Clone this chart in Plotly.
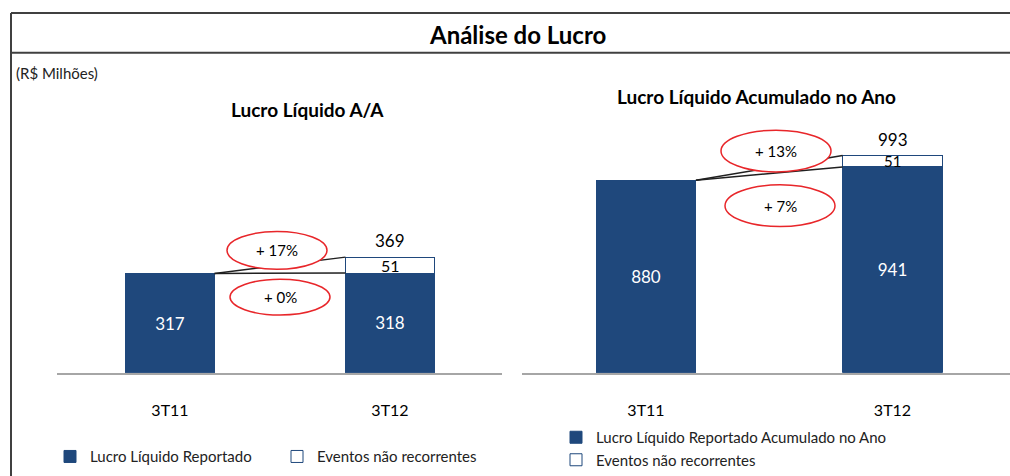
import plotly.graph_objects as go

W, H = 1010, 476

# dados (R$ milhões)
periodos = ['3T11', '3T12']
lucro_aa = [317, 318]
eventos_aa = [51]
total_aa = [369]
lucro_ano = [880, 941]
eventos_ano = [51]
total_ano = [993]
var_aa = ['+ 17%', '+ 0%']
var_ano = ['+ 13%', '+ 7%']

AZUL = '#1F487C'
FONTE = 'Lato'
BW = 0.405


def px(x):
    return x / W


def py(y):
    return 1 - y / H


fig = go.Figure()

# painel esquerdo
fig.add_trace(go.Bar(x=periodos, y=lucro_aa, name='Lucro Líquido Reportado',
                     marker=dict(color=AZUL, line=dict(color=AZUL, width=1)), width=BW,
                     text=[str(v) for v in lucro_aa], textposition='inside', insidetextanchor='middle',
                     textfont=dict(color='white', size=17), constraintext='none', textangle=0,
                     xaxis='x', yaxis='y', legend='legend'))
fig.add_trace(go.Bar(x=periodos[1:], y=eventos_aa, name='Eventos não recorrentes',
                     marker=dict(color='white', line=dict(color=AZUL, width=1)), width=BW,
                     xaxis='x', yaxis='y', legend='legend'))

# painel direito
fig.add_trace(go.Bar(x=periodos, y=lucro_ano, name='Lucro Líquido Reportado Acumulado no Ano',
                     marker=dict(color=AZUL, line=dict(color=AZUL, width=1)), width=BW,
                     text=[str(v) for v in lucro_ano], textposition='inside', insidetextanchor='middle',
                     textfont=dict(color='white', size=17), constraintext='none', textangle=0,
                     xaxis='x2', yaxis='y2', legend='legend2'))
fig.add_trace(go.Bar(x=periodos[1:], y=eventos_ano, name='Eventos não recorrentes',
                     marker=dict(color='white', line=dict(color=AZUL, width=1)), width=BW,
                     xaxis='x2', yaxis='y2', legend='legend2'))

shapes = []
annotations = []

# rótulos dos eventos e totais acima das barras
for xr, yr, base, ev, tot, fs in [('x', 'y', lucro_aa[1], eventos_aa, total_aa, 16),
                                  ('x2', 'y2', lucro_ano[1], eventos_ano, total_ano, 15)]:
    annotations.append(dict(xref=xr, yref=yr, x=periodos[1], y=base + ev[0] / 2, text=str(ev[0]),
                            showarrow=False, xanchor='center', yanchor='middle',
                            font=dict(size=fs, color='black', family=FONTE)))
    annotations.append(dict(xref=xr, yref=yr, x=periodos[1], y=tot[0], text=str(tot[0]),
                            showarrow=False, xanchor='center', yanchor='bottom', yshift=4,
                            font=dict(size=17, color='black', family=FONTE)))

# moldura
borda = dict(color='#404040', width=2)
shapes.append(dict(type='line', xref='paper', yref='paper', x0=px(11), x1=1.01, y0=py(13), y1=py(13), line=borda))
shapes.append(dict(type='line', xref='paper', yref='paper', x0=px(11), x1=1.01, y0=py(53), y1=py(53), line=borda))
shapes.append(dict(type='line', xref='paper', yref='paper', x0=px(11), x1=px(11), y0=py(13), y1=-0.01, line=borda))

# linhas de ligação
for xr, yr, base, topos in [('x', 'y', lucro_aa[0], [total_aa[0], lucro_aa[1]]),
                            ('x2', 'y2', lucro_ano[0], [total_ano[0], lucro_ano[1]])]:
    for t in topos:
        shapes.append(dict(type='line', xref=xr, yref=yr, x0=BW / 2, x1=1 - BW / 2, y0=base, y1=t,
                           line=dict(color='#202020', width=1.5)))

# elipses
elipses = [(277, 252, 100, 38, var_aa[0]), (280, 299, 100, 36, var_aa[1]),
           (776, 152, 110, 42, var_ano[0]), (780, 207, 110, 42, var_ano[1])]
for cx, cy, ew, eh, txt in elipses:
    shapes.append(dict(type='circle', xref='paper', yref='paper',
                       x0=px(cx - ew / 2), x1=px(cx + ew / 2), y0=py(cy + eh / 2), y1=py(cy - eh / 2),
                       fillcolor='white', line=dict(color='#E8262A', width=1.5)))
    annotations.append(dict(xref='paper', yref='paper', x=px(cx), y=py(cy), text=txt, showarrow=False,
                            xanchor='center', yanchor='middle',
                            font=dict(size=15, color='black', family=FONTE)))

# títulos
annotations.append(dict(xref='paper', yref='paper', x=px(517), y=py(35), text='<b>Análise do Lucro</b>',
                        xanchor='center', yanchor='middle',
                        showarrow=False, font=dict(size=24, color='black', family=FONTE)))
annotations.append(dict(xref='paper', yref='paper', x=px(14), y=py(73), xanchor='left', yanchor='middle',
                        text='(R$ Milhões)', showarrow=False, font=dict(size=15, color='#222', family=FONTE)))
annotations.append(dict(xref='paper', yref='paper', x=px(307), y=py(110), text='<b>Lucro Líquido A/A</b>',
                        xanchor='center', yanchor='middle',
                        showarrow=False, font=dict(size=19, color='black', family=FONTE)))
annotations.append(dict(xref='paper', yref='paper', x=px(756), y=py(97),
                        text='<b>Lucro Líquido Acumulado no Ano</b>', xanchor='center', yanchor='middle',
                        showarrow=False, font=dict(size=19, color='black', family=FONTE)))

ydom = [py(375), py(100)]
eixo_x = dict(type='category', showline=True, linecolor='#A6A6A6', linewidth=2, showgrid=False,
              zeroline=False, ticks='', ticklabelstandoff=22,
              tickfont=dict(size=16, color='black', family=FONTE), fixedrange=True)

fig.update_layout(
    width=W, height=H,
    margin=dict(l=0, r=0, t=0, b=0),
    paper_bgcolor='white', plot_bgcolor='white',
    barmode='stack',
    font=dict(family=FONTE, color='black'),
    xaxis=dict(eixo_x, domain=[px(57), px(502)],
               range=[(57 - 170) / 220, (502 - 170) / 220], anchor='y'),
    yaxis=dict(domain=ydom, range=[0, 275 / 0.315], visible=False, anchor='x', fixedrange=True),
    xaxis2=dict(eixo_x, domain=[px(522), 1],
                range=[(522 - 646) / 246.5, (1010 - 646) / 246.5], anchor='y2'),
    yaxis2=dict(domain=ydom, range=[0, 275 / 0.22], visible=False, anchor='x2', fixedrange=True),
    legend=dict(orientation='h', x=px(50), y=py(443), xanchor='left', yanchor='top',
                font=dict(size=15, color='#222', family=FONTE), entrywidth=182, itemwidth=30,
                bgcolor='rgba(0,0,0,0)', traceorder='normal'),
    legend2=dict(orientation='v', x=px(556), y=py(424), xanchor='left', yanchor='top',
                 font=dict(size=15, color='#222', family=FONTE), itemwidth=30,
                 bgcolor='rgba(0,0,0,0)', tracegroupgap=0, traceorder='normal'),
    shapes=shapes,
    annotations=annotations,
    showlegend=True,
)

fig.write_html('out.html', config={'displayModeBar': False},
               post_script="document.body.style.margin='0';")
